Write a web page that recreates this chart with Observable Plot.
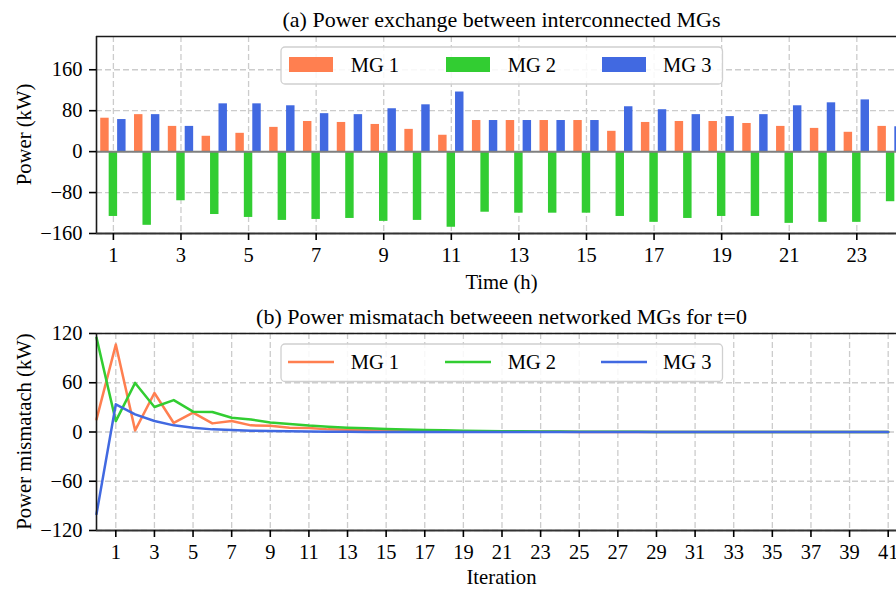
<!DOCTYPE html>
<html><head><meta charset="utf-8">
<script src="https://cdn.jsdelivr.net/npm/d3@7"></script>
<script src="https://cdn.jsdelivr.net/npm/@observablehq/plot@0.6"></script>
<style>
html,body{margin:0;padding:0;background:#fff;overflow:hidden;width:896px;height:590px}
#wrap{position:relative;width:910px}
#wrap svg{display:block;max-width:none}
#wrap svg text{font-family:'Liberation Serif','Times New Roman',Times,serif !important}
</style></head><body><div id="wrap"></div>
<script>
// ---------- data: (a) power exchange ----------
const hours = [1,2,3,4,5,6,7,8,9,10,11,12,13,14,15,16,17,18,19,20,21,22,23,24];
const mg1Exchange = [65.3,72.3,49.3,30.0,35.8,47.4,58.9,57.0,53.1,43.5,32.0,60.8,60.8,60.8,60.8,39.7,57.0,58.9,58.9,55.0,49.3,45.4,37.8,49.3];
const mg2Exchange = [-126.7,-144.0,-96.0,-122.9,-128.6,-134.4,-132.5,-130.6,-136.3,-134.4,-147.8,-118.4,-120.3,-120.3,-120.3,-126.7,-138.2,-130.6,-126.7,-126.7,-140.2,-138.2,-138.2,-97.9];
const mg3Exchange = [62.7,72.3,49.3,93.4,93.4,89.6,74.2,72.3,83.8,91.5,116.5,60.8,60.8,60.8,60.8,87.7,81.9,72.3,68.5,72.3,89.6,95.4,101.1,48.6];
const hourTicks = [1,3,5,7,9,11,13,15,17,19,21,23];
const powerTicks = [-160,-80,0,80,160];

// ---------- data: (b) power mismatch ----------
const iterations = [0,1,2,3,4,5,6,7,8,9,10,11,12,13,14,15,16,17,18,19,20,21,22,23,24,25,26,27,28,29,30,31,32,33,34,35,36,37,38,39,40,41];
const mg1Mismatch = [15.4,106.5,2.0,47.5,11.0,23.5,10.5,13.4,8.1,7.7,5.3,4.9,3.2,2.6,2.1,1.7,1.4,1.1,0.9,0.7,0.5,0.4,0.3,0.2,0.2,0.1,0.1,0,0,0,0,0,0,0,0,0,0,0,0,0,0,0];
const mg2Mismatch = [115.0,13.2,59.8,30.5,38.9,24.8,24.4,17.3,15.3,11.5,9.7,7.8,6.5,5.3,4.5,3.6,3.0,2.5,2.0,1.6,1.3,1.0,0.8,0.6,0.5,0.4,0.3,0.2,0.2,0.1,0.1,0,0,0,0,0,0,0,0,0,0,0];
const mg3Mismatch = [-100.0,33.7,21.5,13.4,8.1,5.3,3.2,2.4,1.6,1.1,0.8,0.5,0.3,0.2,0.1,0.1,0,0,0,0,0,0,0,0,0,0,0,0,0,0,0,0,0,0,0,0,0,0,0,0,0,0];
const iterTicks = [1,3,5,7,9,11,13,15,17,19,21,23,25,27,29,31,33,35,37,39,41];
const mismatchTicks = [-120,-60,0,60,120];

const seriesNames = ["MG 1","MG 2","MG 3"];
const seriesColors = ["coral","limegreen","royalblue"];

// ---------- build tables ----------
const exchangeSeries = [mg1Exchange, mg2Exchange, mg3Exchange];
const barWidth = 0.25;
const barRows = [];
exchangeSeries.forEach((vals, s) => {
  vals.forEach((v, i) => {
    const c = hours[i] + (s - 1) * barWidth;
    barRows.push({series: seriesNames[s], x1: c - barWidth/2, x2: c + barWidth/2, value: v});
  });
});
const mismatchSeries = [mg1Mismatch, mg2Mismatch, mg3Mismatch];
const lineRows = [];
mismatchSeries.forEach((vals, s) => {
  vals.forEach((v, i) => lineRows.push({series: seriesNames[s], iteration: iterations[i], value: v}));
});

const FONT = "'Liberation Serif','Times New Roman',Times,serif";
const TICK_FS = 20.5;
const STYLE = `font-family: ${FONT}; font-size: ${TICK_FS}px; color: #000; background: transparent; overflow: visible; max-width: none;`;
const fmt = d => d < 0 ? "\u2212" + Math.abs(d) : String(d);
const gridStyle = {stroke: "#cccccc", strokeOpacity: 1, strokeWidth: 1.3, strokeDasharray: "6,3"};
const spine = {stroke: "#1a1a1a", strokeWidth: 1.6};
const colorScale = {domain: seriesNames, range: seriesColors};
const axisOpts = {tickSize: 7, tickPadding: 7, strokeWidth: 1.6, label: null, fontSize: TICK_FS, fontFamily: FONT};

const wrap = document.getElementById("wrap");

// ---------- chart (a) ----------
const xA = [0.5, 24.5], yA = [-160, 225];
const chartA = Plot.plot({
  width: 910, height: 300,
  marginLeft: 96, marginRight: 3, marginTop: 36, marginBottom: 67,
  style: STYLE,
  x: {domain: xA, label: null},
  y: {domain: yA, label: null},
  color: colorScale,
  marks: [
    Plot.gridX(hourTicks, gridStyle),
    Plot.gridY(powerTicks, gridStyle),
    Plot.rect(barRows, {x1: "x1", x2: "x2", y1: 0, y2: "value", fill: "series"}),
    Plot.ruleY([0], {stroke: "#808080", strokeWidth: 2}),
    Plot.ruleX([xA[0]], spine),
    Plot.ruleY([yA[1]], spine),
    Plot.ruleY([yA[0]], {stroke: "#333", strokeWidth: 2}),
    Plot.axisX(hourTicks, axisOpts),
    Plot.axisY(powerTicks, {...axisOpts, tickFormat: fmt})
  ]
});
wrap.appendChild(chartA);

// ---------- chart (b) ----------
const xB = [0, 42], yB = [-120, 120];
const chartB = Plot.plot({
  width: 910, height: 290,
  marginLeft: 96, marginRight: 3, marginTop: 33, marginBottom: 60,
  style: STYLE,
  x: {domain: xB, label: null},
  y: {domain: yB, label: null},
  color: colorScale,
  marks: [
    Plot.gridX(iterTicks, gridStyle),
    Plot.gridY(mismatchTicks, gridStyle),
    Plot.line(lineRows, {x: "iteration", y: "value", stroke: "series", z: "series", strokeWidth: 2.5}),
    Plot.ruleX([xB[0]], spine),
    Plot.ruleY([yB[1]], spine),
    Plot.ruleY([yB[0]], {stroke: "#333", strokeWidth: 2}),
    Plot.axisX(iterTicks, axisOpts),
    Plot.axisY(mismatchTicks, {...axisOpts, tickFormat: fmt})
  ]
});
wrap.appendChild(chartB);

// ---------- titles, labels, legends ----------
function decorate(svgNode, opts) {
  const svg = d3.select(svgNode);
  const cx = (96 + 907) / 2;
  const g = svg.append("g").attr("font-family", FONT).attr("fill", "#000");
  g.append("text").attr("x", cx).attr("y", opts.titleY).attr("text-anchor", "middle")
    .attr("font-size", 22).text(opts.title);
  g.append("text").attr("x", cx).attr("y", opts.xLabelY).attr("text-anchor", "middle")
    .attr("font-size", 20.7).text(opts.xLabel);
  g.append("text").attr("transform", `translate(31,${opts.yMid}) rotate(-90)`).attr("text-anchor", "middle")
    .attr("font-size", 20.7).text(opts.yLabel);
  // legend
  const lg = svg.append("g").attr("font-family", FONT).attr("text-anchor", "start");
  lg.append("rect").attr("x", 281).attr("y", opts.legTop).attr("width", 441.5).attr("height", opts.legH)
    .attr("rx", 4).attr("fill", "#fff").attr("fill-opacity", 0.85).attr("stroke", "#d0d0d0").attr("stroke-width", 1.3);
  const hx = [289, 446, 602], tx = [350.7, 507.7, 663];
  seriesNames.forEach((name, i) => {
    if (opts.patch) {
      lg.append("rect").attr("x", hx[i]).attr("y", opts.legMid - 7.5).attr("width", 44).attr("height", 15)
        .attr("fill", seriesColors[i]);
    } else {
      lg.append("line").attr("x1", hx[i] - 1).attr("x2", hx[i] + 45).attr("y1", opts.legMid).attr("y2", opts.legMid)
        .attr("stroke", seriesColors[i]).attr("stroke-width", 2.5);
    }
    lg.append("text").attr("x", tx[i]).attr("y", opts.legMid + 7).attr("text-anchor", "start")
      .attr("font-size", 20.5).attr("fill", "#000").text(name);
  });
}
decorate(chartA, {title: "(a) Power exchange between interconnected MGs", titleY: 26.5, xLabel: "Time (h)", xLabelY: 289,
  yLabel: "Power (kW)", yMid: 134.5, legTop: 47, legH: 37, legMid: 64.5, patch: true});
decorate(chartB, {title: "(b) Power mismatach betweeen networked MGs for t=0", titleY: 24, xLabel: "Iteration", xLabelY: 284,
  yLabel: "Power mismatach (kW)", yMid: 131.5, legTop: 44, legH: 37.5, legMid: 62, patch: false});
</script></body></html>
